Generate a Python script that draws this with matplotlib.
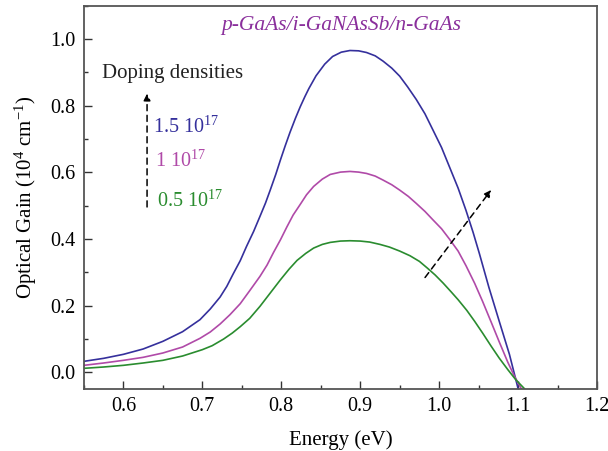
"""
Optical gain vs energy for p-GaAs/i-GaNAsSb/n-GaAs at three doping densities.
"""

import matplotlib
matplotlib.use('Agg')
import matplotlib.pyplot as plt
from matplotlib.ticker import MultipleLocator

plt.rcParams['font.family'] = ['Liberation Serif', 'DejaVu Serif']
plt.rcParams['mathtext.fontset'] = 'custom'
plt.rcParams['mathtext.rm'] = 'Liberation Serif'
plt.rcParams['mathtext.it'] = 'Liberation Serif:italic'

COLORS = {'high': '#35309c', 'mid': '#b04aa8', 'low': '#2a8c2f', 'title': '#8a2f9c'}

# Doping 1.5e17
energy_high = [0.55, 0.575, 0.60, 0.625, 0.65, 0.675, 0.697, 0.71, 0.7225, 0.731, 0.739,
               0.748, 0.756, 0.765, 0.773, 0.780, 0.786, 0.793, 0.799, 0.805, 0.811,
               0.818, 0.824, 0.830, 0.835, 0.844, 0.855, 0.865, 0.876, 0.887, 0.898,
               0.908, 0.919, 0.929, 0.940, 0.950, 0.960, 0.971, 0.982, 0.992, 1.003,
               1.013, 1.024, 1.034, 1.043, 1.051, 1.063, 1.076, 1.089, 1.100]
gain_high = [0.033, 0.042, 0.054, 0.070, 0.093, 0.122, 0.158, 0.190, 0.226, 0.258, 0.295,
             0.335, 0.378, 0.423, 0.468, 0.508, 0.547, 0.594, 0.638, 0.680, 0.720,
             0.763, 0.797, 0.828, 0.852, 0.890, 0.925, 0.948, 0.961, 0.966, 0.965,
             0.960, 0.950, 0.934, 0.913, 0.889, 0.857, 0.819, 0.776, 0.728, 0.675,
             0.617, 0.553, 0.486, 0.420, 0.356, 0.255, 0.154, 0.054, -0.049]

# Doping 1e17
energy_mid = [0.55, 0.575, 0.60, 0.625, 0.65, 0.675, 0.697, 0.71, 0.7225, 0.735, 0.748,
              0.760, 0.773, 0.782, 0.790, 0.799, 0.807, 0.815, 0.824, 0.832, 0.841,
              0.852, 0.862, 0.875, 0.887, 0.898, 0.908, 0.919, 0.929, 0.940, 0.950,
              0.961, 0.971, 0.982, 0.992, 1.003, 1.013, 1.024, 1.034, 1.045, 1.055,
              1.066, 1.076, 1.087, 1.095, 1.104]
gain_mid = [0.021, 0.028, 0.036, 0.045, 0.058, 0.076, 0.102, 0.121, 0.145, 0.173, 0.206,
            0.245, 0.288, 0.322, 0.359, 0.398, 0.436, 0.472, 0.504, 0.533, 0.558,
            0.580, 0.594, 0.601, 0.603, 0.601, 0.597, 0.589, 0.577, 0.563, 0.547,
            0.528, 0.507, 0.483, 0.458, 0.431, 0.400, 0.364, 0.320, 0.267, 0.213,
            0.150, 0.092, 0.030, -0.010, -0.049]

# Doping 0.5e17
energy_low = [0.55, 0.575, 0.60, 0.625, 0.65, 0.675, 0.70, 0.7125, 0.727, 0.738, 0.748,
              0.760, 0.773, 0.786, 0.799, 0.810, 0.820, 0.831, 0.841, 0.852, 0.862,
              0.875, 0.887, 0.900, 0.912, 0.925, 0.937, 0.950, 0.963, 0.975, 0.985,
              0.995, 1.005, 1.015, 1.024, 1.035, 1.045, 1.055, 1.066, 1.076, 1.087,
              1.097, 1.108]
gain_low = [0.012, 0.016, 0.021, 0.028, 0.036, 0.049, 0.068, 0.080, 0.100, 0.118, 0.137,
            0.162, 0.198, 0.238, 0.278, 0.310, 0.336, 0.357, 0.373, 0.384, 0.390,
            0.394, 0.395, 0.394, 0.391, 0.384, 0.376, 0.364, 0.350, 0.333, 0.313,
            0.292, 0.268, 0.242, 0.218, 0.186, 0.153, 0.118, 0.078, 0.043, 0.008,
            -0.022, -0.049]

fig = plt.figure(figsize=(6.08, 4.51), dpi=100)
ax = fig.add_axes([0.138, 0.1375, 0.844, 0.8495])

ax.plot(energy_high, gain_high, color=COLORS['high'], linewidth=1.2)
ax.plot(energy_mid, gain_mid, color=COLORS['mid'], linewidth=1.2)
ax.plot(energy_low, gain_low, color=COLORS['low'], linewidth=1.2)

ax.set_xlim(0.55, 1.2)
ax.set_ylim(-0.05, 1.10)
ax.xaxis.set_major_locator(MultipleLocator(0.1))
ax.xaxis.set_minor_locator(MultipleLocator(0.05))
ax.yaxis.set_major_locator(MultipleLocator(0.2))
ax.yaxis.set_minor_locator(MultipleLocator(0.1))
ax.xaxis.set_major_formatter(plt.FormatStrFormatter('%.1f'))
ax.yaxis.set_major_formatter(plt.FormatStrFormatter('%.1f'))
ax.tick_params(which='major', direction='in', length=6, width=1, labelsize=14.5,
               color='#333333', pad=6)
ax.tick_params(which='minor', direction='in', length=3, width=1, color='#333333')
for s in ax.spines.values():
    s.set_color('#555555')
    s.set_linewidth(1.3)

ax.set_xlabel('Energy (eV)', fontsize=15, labelpad=10)
ax.set_ylabel(r'Optical Gain (10$^{4}$ cm$^{-1}$)', fontsize=15, labelpad=8)

# Annotations
ax.text(0.876, 1.04, 'p-GaAs/i-GaNAsSb/n-GaAs', color=COLORS['title'], style='italic',
        fontsize=15.5, ha='center', va='center')
ax.text(0.573, 0.896, 'Doping densities', fontsize=15, ha='left', va='center', color='#222222')
ax.text(0.638, 0.735, r'1.5 10$^{17}$', color=COLORS['high'], fontsize=14.5, ha='left', va='center')
ax.text(0.640, 0.635, r'1 10$^{17}$', color=COLORS['mid'], fontsize=14.5, ha='left', va='center')
ax.text(0.643, 0.515, r'0.5 10$^{17}$', color=COLORS['low'], fontsize=14.5, ha='left', va='center')

ax.annotate('', xy=(0.630, 0.845), xytext=(0.630, 0.488),
            arrowprops=dict(arrowstyle='-|>', linestyle=(0, (4, 3)), color='black',
                            lw=1.1, mutation_scale=10))
ax.annotate('', xy=(1.068, 0.554), xytext=(0.980, 0.278),
            arrowprops=dict(arrowstyle='-|>', linestyle=(0, (4, 3)), color='black',
                            lw=1.1, mutation_scale=10))

plt.savefig('out.png', dpi=100)
plt.close()
